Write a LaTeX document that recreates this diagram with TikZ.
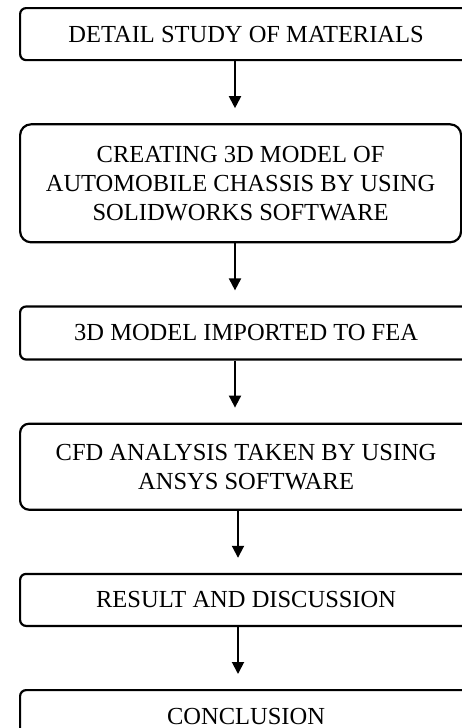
\documentclass[tikz,border=0pt]{standalone}
\usepackage{fontspec}
\setmainfont{Liberation Serif}
\usetikzlibrary{positioning,arrows.meta}
\tikzset{
    % Process stage box
    stagebox/.style={
        rectangle,
        rounded corners=6pt,
        draw=black,
        line width=2.2pt,
        fill=white,
        font=\fontsize{24.5}{29}\selectfont,
        minimum width=452pt,
        minimum height=52pt,
        align=center,
        inner sep=3pt
    },
    % Arrow between stages
    flowarrow/.style={
        -{Triangle[width=12pt,length=12pt]},
        line width=1.9pt,
        shorten >=15pt
    }
}

\begin{document}
\begin{tikzpicture}[node distance=62pt]
    \useasboundingbox (0,0) rectangle (461pt,-728pt);
    \node[stagebox, anchor=north west] (study) at (19pt,-7pt) {DETAIL STUDY OF MATERIALS};
    \node[stagebox, below=of study.south west, anchor=north west, minimum width=441pt, minimum height=118pt, rounded corners=11pt] (model) {CREATING 3D MODEL OF\\AUTOMOBILE CHASSIS BY USING\\SOLIDWORKS SOFTWARE};
    \node[stagebox, below=of model.south west, anchor=north west, minimum height=53pt] (import) {3D MODEL IMPORTED TO FEA};
    \node[stagebox, below=of import.south west, anchor=north west, minimum height=86pt, rounded corners=9pt] (cfd) {CFD ANALYSIS TAKEN BY USING\\ANSYS SOFTWARE};
    \node[stagebox, below=of cfd.south west, anchor=north west] (result) {RESULT AND DISCUSSION};
    \node[stagebox, below=of result.south west, anchor=north west] (concl) {CONCLUSION};

    \draw[flowarrow] ([xshift=216pt]study.south west) -- ([xshift=216pt]model.north west);
    \draw[flowarrow] ([xshift=216pt]model.south west) -- ([xshift=216pt]import.north west);
    \draw[flowarrow] ([xshift=216pt]import.south west) -- ([xshift=216pt]cfd.north west);
    \draw[flowarrow] ([xshift=219pt]cfd.south west) -- ([xshift=219pt]result.north west);
    \draw[flowarrow] ([xshift=219pt]result.south west) -- ([xshift=219pt]concl.north west);
\end{tikzpicture}
\end{document}
